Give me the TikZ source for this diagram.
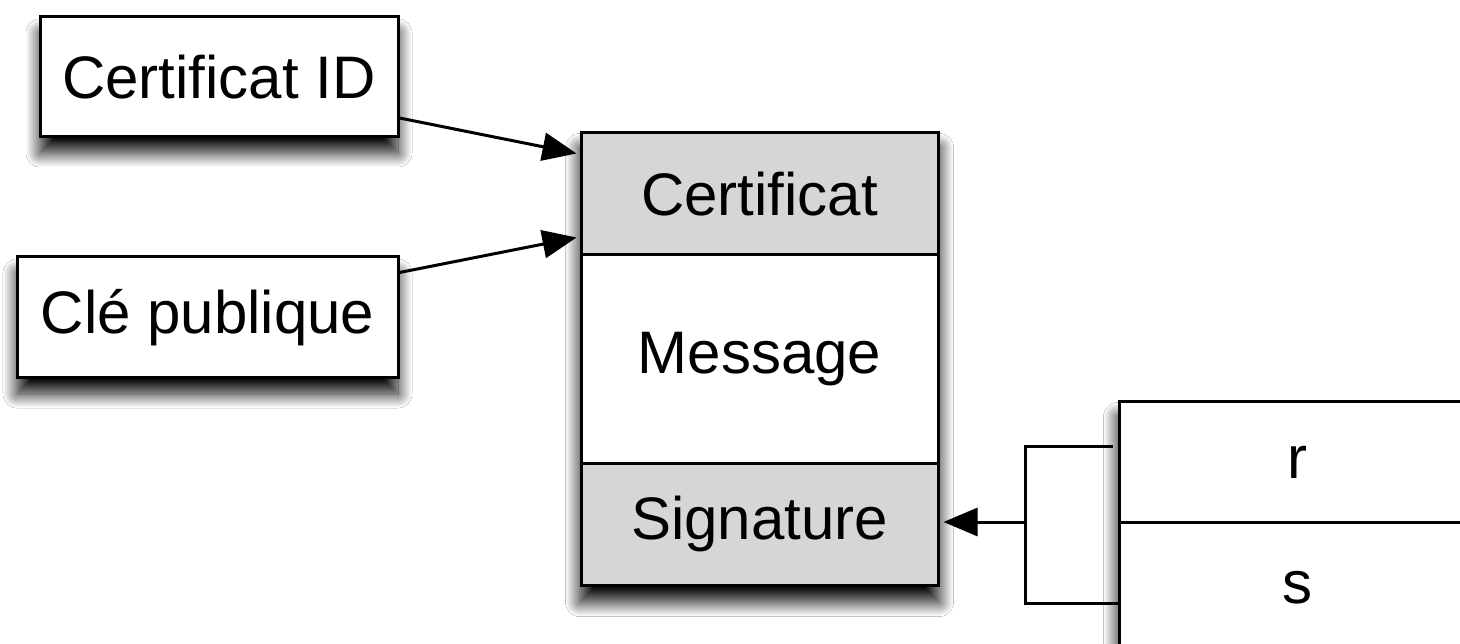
\documentclass[tikz,border=0pt]{standalone}
\usepackage{fontspec}
\setmainfont{Liberation Sans}
\usetikzlibrary{arrows.meta,shadows.blur,backgrounds}
\definecolor{partgray}{RGB}{214,214,214}
\tikzset{
  shadowed/.style={blur shadow={shadow xshift=0pt, shadow yshift=-16pt,
      shadow blur radius=14pt, shadow blur steps=24, shadow opacity=95}},
  field/.style={draw=black, line width=3pt, rectangle, inner sep=0pt,
      font=\fontsize{60}{70}\selectfont},
  link/.style={draw=black, line width=3pt,
      -{Triangle[length=34pt,width=28pt,fill=black,color=black]}},
  plain/.style={line width=3pt}
}
\begin{document}
\begin{tikzpicture}[x=1pt,y=-1pt]
  \clip (0,0) rectangle (1460,644);

  % input boxes on the left
  \node[field, fill=white, shadowed, minimum width=358pt, minimum height=120pt]
    (cid) at (219,77) {Certificat ID};
  \node[field, fill=white, shadowed, minimum width=381pt, minimum height=121pt]
    (cle) at (207.5,317.5) {Clé publique};

  % the signed message: three stacked parts
  \node[field, fill=partgray, minimum width=357pt, minimum height=122pt]
    (cert) at (759.5,194) {Certificat};
  \node[field, fill=white, minimum width=357pt, minimum height=208pt]
    (msg) at (759.5,359) {Message};
  \node[field, fill=partgray, minimum width=357pt, minimum height=122pt]
    (sig) at (759.5,524) {Signature};

  % the signature value (r, s)
  \node[field, fill=white, minimum width=357pt, minimum height=120pt]
    (r) at (1297.5,462) {r};
  \node[field, fill=white, minimum width=357pt, minimum height=140pt]
    (s) at (1297.5,592) {\raisebox{10pt}{s}};

  \begin{pgfonlayer}{background}
    \fill[white] (0,0) rectangle (1460,644);
    \path[fill=white, shadowed] (cert.north west) rectangle (sig.south east);
    \path[fill=white, shadowed] (r.north west) rectangle (s.south east);
  \end{pgfonlayer}

  % arrows into the certificate part
  \draw[link] ([yshift=-41pt]cid.east) -- ([xshift=-3pt,yshift=-22pt]cert.north west);
  \draw[link] ([yshift=45pt]cle.east) -- ([xshift=-3pt,yshift=19pt]cert.south west);

  % bracket gathering r and s into the signature
  \coordinate (br) at (1025,522);
  \draw[plain] ([xshift=-5pt,yshift=16pt]r.west) -| (br) |- ([yshift=-11pt]s.west);
  \draw[link, shorten >=4pt] (br) -- (br -| sig.east);
\end{tikzpicture}
\end{document}
